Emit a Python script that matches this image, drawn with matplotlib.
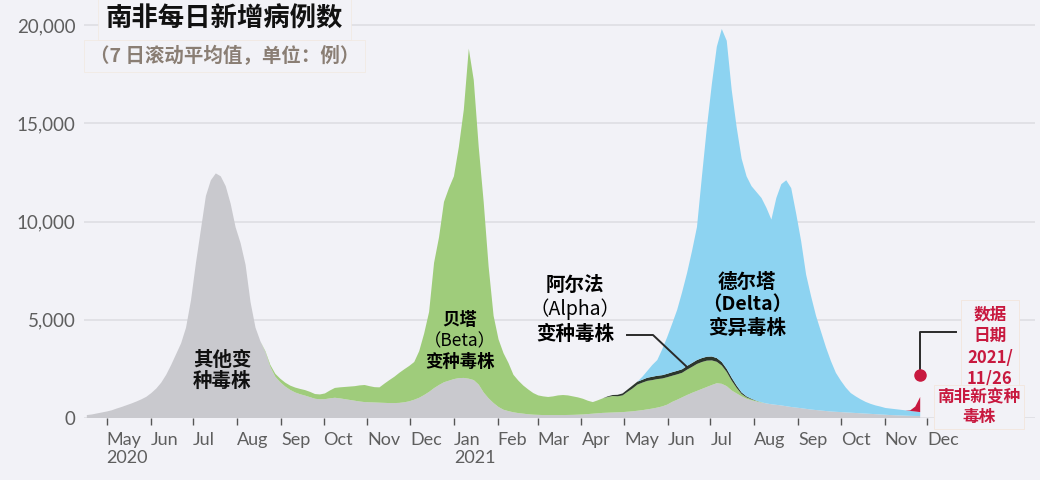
import matplotlib
matplotlib.use('Agg')
import matplotlib.pyplot as plt
import pandas as pd
from matplotlib.lines import Line2D

plt.rcParams['font.family'] = ['Noto Sans CJK SC', 'DejaVu Sans']

# twice-weekly points (7-day average of daily cases)
dates = pd.date_range('2020-04-17', '2021-11-26', freq='84h')

other = [150, 180, 230, 280, 330, 390, 480, 560, 650, 740,
         840, 950, 1080, 1270, 1500, 1800, 2200, 2700, 3250, 3800,
         4600, 6000, 7900, 9600, 11300, 12100, 12450, 12300, 11800, 10900,
         9700, 8900, 7800, 5900, 4600, 3900, 3350, 2600, 2100, 1820,
         1600, 1430, 1300, 1210, 1140, 1060, 980, 950, 960, 1000,
         1030, 1000, 960, 920, 880, 840, 810, 800, 790, 780,
         770, 760, 760, 770, 800, 850, 930, 1030, 1170, 1330,
         1520, 1680, 1820, 1900, 1980, 2030, 2040, 2000, 1930, 1700,
         1300, 1000, 760, 560, 420, 350, 290, 250, 220, 190,
         170, 160, 150, 150, 150, 150, 150, 155, 160, 170,
         180, 200, 220, 240, 260, 270, 280, 290, 300, 320,
         340, 370, 400, 440, 480, 530, 590, 680, 820, 930,
         1050, 1170, 1280, 1380, 1480, 1580, 1680, 1770, 1740, 1620,
         1400, 1250, 1100, 980, 900, 840, 780, 740, 700, 670,
         640, 600, 560, 530, 500, 465, 430, 405, 380, 355,
         330, 315, 300, 285, 270, 255, 240, 225, 210, 195,
         180, 165, 150, 140, 130, 120, 110, 105, 100]

beta = [0] * 36 + [
    50, 100, 150, 180, 200, 220, 250, 270, 280, 270,
    240, 250, 290, 400, 500, 560, 620, 680, 740, 820,
    870, 820, 780, 780, 980, 1170, 1340, 1530, 1680, 1800,
    1920, 2370, 3130, 4070, 6380, 7520, 9180, 9800, 10320, 11770,
    13660, 16800, 15270, 12100, 9700, 6700, 4440, 3440, 2880, 2450,
    1910, 1650, 1430, 1260, 1100, 990, 950, 920, 950, 1000,
    1020, 995, 940, 880, 800, 680, 590, 660, 740, 800,
    840, 815, 850, 1010, 1160, 1330, 1400, 1450, 1450, 1450,
    1420, 1395, 1330, 1290, 1250, 1290, 1320, 1370, 1370, 1340,
    1250, 1090, 930, 720, 500, 280, 120, 70, 50, 30,
    20] + [0] * 32

alpha = [0] * 104 + [0, 30, 50, 75, 100, 120, 150, 150, 150, 160,
                     170, 170, 170, 175, 180, 180, 180, 190, 200, 200,
                     200, 200, 200, 190, 180, 160, 150, 120, 80, 50,
                     30, 10] + [0] * 33

delta = [0] * 112 + [150, 350, 600, 800, 1320, 1870, 2470, 3100, 3920, 4730,
                     5700, 6770, 9250, 11680, 13870, 15850, 16950, 16700, 14650, 13150,
                     11900, 11200, 10820, 10620, 10400, 9960, 9400, 10530, 11260, 11500,
                     11140, 9870, 8500, 6835, 5770, 4795, 4020, 3245, 2570, 1985,
                     1600, 1265, 1000, 845, 710, 595, 510, 445, 400, 345,
                     330, 310, 290, 270, 250, 225, 200]

omicron = [0] * 166 + [30, 250, 770]

month_ticks = pd.date_range('2020-05-01', '2021-12-01', freq='MS')
month_labels = ['May\n2020', 'Jun', 'Jul', 'Aug', 'Sep', 'Oct', 'Nov', 'Dec',
                'Jan\n2021', 'Feb', 'Mar', 'Apr', 'May', 'Jun', 'Jul', 'Aug',
                'Sep', 'Oct', 'Nov', 'Dec']
y_ticks = [0, 5000, 10000, 15000, 20000]

bg = '#f2f2f7'
red = '#c8193f'

fig = plt.figure(figsize=(10.4, 4.8), dpi=100, facecolor=bg)
ax = fig.add_axes([84 / 1040, 62 / 480, 951 / 1040, 412.6 / 480], facecolor=bg)

ax.stackplot(dates, other, beta, alpha, delta, omicron,
             colors=['#c9c9ce', '#9fcc7b', '#2c372c', '#8dd3f1', red],
             linewidth=0)

ax.set_xlim(pd.Timestamp('2020-04-15'), pd.Timestamp('2022-02-15'))
ax.set_ylim(0, 21000)
ax.set_axisbelow(True)
ax.grid(axis='y', color='#dcdce2', lw=1.1)
for s in ax.spines.values():
    s.set_visible(False)

ax.set_yticks(y_ticks)
ax.set_yticklabels([f'{v:,}' for v in y_ticks], family=['Lato', 'DejaVu Sans'])
ax.set_xticks(month_ticks)
ax.set_xticklabels(month_labels, ha='left', family=['Lato', 'DejaVu Sans'])
ax.tick_params(axis='y', length=0, pad=6, labelsize=13.5, labelcolor='#5e5e5e')
ax.tick_params(axis='x', length=5, width=1, color='#555555', pad=5,
               labelsize=13, labelcolor='#5e5e5e')


def fx(x):
    return x / 1040


def fy(y):
    return 1 - y / 480


# title and subtitle
fig.text(fx(106), fy(19), '南非每日新增病例数', fontsize=19, fontweight='bold',
         color='#111111', ha='left', va='center',
         bbox=dict(boxstyle='square,pad=0.3', fc=bg, ec='#f1e8e0', lw=0.5))
fig.text(fx(90), fy(56), '（7 日滚动平均值，单位：例）', fontsize=14, fontweight='bold',
         color='#8a7e74', ha='left', va='center',
         bbox=dict(boxstyle='square,pad=0.3', fc=bg, ec='#f1e8e0', lw=0.5))

# series labels
fig.text(fx(222), fy(371), '其他变\n种毒株', fontsize=14, fontweight='bold',
         ha='center', va='center', linespacing=1.15, color='#111111')

fig.text(fx(460), fy(320), '贝塔', fontsize=12.5, fontweight='bold', ha='center', va='center')
fig.text(fx(460), fy(341), '（Beta）', fontsize=12.5, ha='center', va='center')
fig.text(fx(460), fy(362), '变种毒株', fontsize=12.5, fontweight='bold', ha='center', va='center')

fig.text(fx(575), fy(285), '阿尔法', fontsize=14, fontweight='bold', ha='center', va='center')
fig.text(fx(575), fy(309), '（Alpha）', fontsize=14, ha='center', va='center')
fig.text(fx(575), fy(334), '变种毒株', fontsize=14, fontweight='bold', ha='center', va='center')
fig.add_artist(Line2D([fx(627), fx(653), fx(687)], [fy(335), fy(335), fy(367)],
                      color='#2a2a2a', lw=1.4, transform=fig.transFigure))

fig.text(fx(747), fy(282), '德尔塔', fontsize=14, fontweight='bold', ha='center', va='center')
fig.text(fx(747), fy(305), '（Delta）', fontsize=14, fontweight='bold', ha='center', va='center')
fig.text(fx(747), fy(328), '变异毒株', fontsize=14, fontweight='bold', ha='center', va='center')

# data date marker
last = dates[-1]
ax.plot([last, last, pd.Timestamp('2021-12-21')], [2200, 4380, 4380],
        color='#2a2a2a', lw=1.4, zorder=4)
ax.plot([last], [2200], 'o', color=red, ms=8, zorder=5)

fig.text(fx(990), fy(347), '数据\n日期\n2021/\n11/26', fontsize=12, fontweight='bold',
         color=red, ha='center', va='center', linespacing=1.25,
         bbox=dict(boxstyle='square,pad=0.35', fc=bg, ec='#f3e6dc', lw=0.6))
fig.text(fx(979), fy(407), '南非新变种\n毒株', fontsize=12, fontweight='bold',
         color=red, ha='center', va='center', linespacing=1.1,
         bbox=dict(boxstyle='square,pad=0.2', fc=bg, ec='#f3e6dc', lw=0.6))

fig.savefig('out.png', dpi=100, facecolor=bg)
